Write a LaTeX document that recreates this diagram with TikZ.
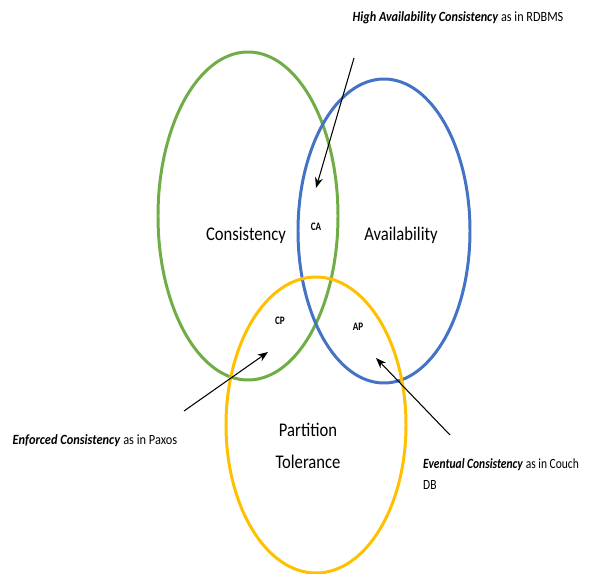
\documentclass[tikz,border=0pt]{standalone}
\usepackage{fontspec}
\usepackage{graphicx}
\setmainfont{Carlito}
\usetikzlibrary{arrows.meta}
\definecolor{capgreen}{RGB}{112,173,71}
\definecolor{capblue}{RGB}{68,114,196}
\definecolor{capyellow}{RGB}{255,192,0}
\newcommand{\squeeze}[2][0.86]{\scalebox{#1}[1]{#2}}
\tikzset{
  circ/.style={line width=1.7pt},
  big/.style={font=\fontsize{11}{13}\selectfont},
  pair/.style={font=\fontsize{6.5}{7}\selectfont\bfseries},
  note/.style={font=\fontsize{8}{10}\selectfont},
  pointer/.style={-{Stealth[length=6pt,width=4.5pt]},line width=0.6pt}
}
\begin{document}
\begin{tikzpicture}[x=0.02cm, y=-0.02cm]
      \useasboundingbox (0,0) rectangle (589,574);

      % the three sets
      \draw[circ,capgreen] (248,216) ellipse (90 and 164);
      \draw[circ,capblue] (384,231) ellipse (86 and 152);
      \draw[circ,capyellow] (316,425) ellipse (90 and 148);

      \node[big] (cons) at (246,235) {\squeeze{Consistency}};
      \node[big] (avail) at (401,235) {\squeeze{Availability}};
      \node[big,align=center] (part) at (308,446) {\squeeze{Partition}\\[5pt]\squeeze{Tolerance}};

      \node[pair] (ca) at (316,227) {\squeeze[0.8]{CA}};
      \node[pair] (cp) at (280,321) {\squeeze[0.8]{CP}};
      \node[pair] (ap) at (358,327) {\squeeze[0.8]{AP}};

      % notes with their pointers
      \node[note] (caNote) at (458,18) {\squeeze[0.87]{\textbf{\textit{High Availability Consistency}} as in RDBMS}};
      \node[note] (cpNote) at (95,441) {\squeeze[0.88]{\textbf{\textit{Enforced Consistency}} as in Paxos}};
      \node[note,align=left,anchor=north west] (apNote) at (417,452) {\squeeze[0.82]{\textbf{\textit{Eventual Consistency}} as in Couch}\\[2pt]\squeeze[0.82]{DB}};

      \coordinate (caTail) at (354,58);
      \coordinate (caTip) at (316,188);
      \coordinate (cpTail) at (184,411);
      \coordinate (cpTip) at (268,352);
      \coordinate (apTail) at (450,435);
      \coordinate (apTip) at (376,358);

      \draw[pointer] (caTail) -- (caTip);
      \draw[pointer] (cpTail) -- (cpTip);
      \draw[pointer] (apTail) -- (apTip);
\end{tikzpicture}
\end{document}
